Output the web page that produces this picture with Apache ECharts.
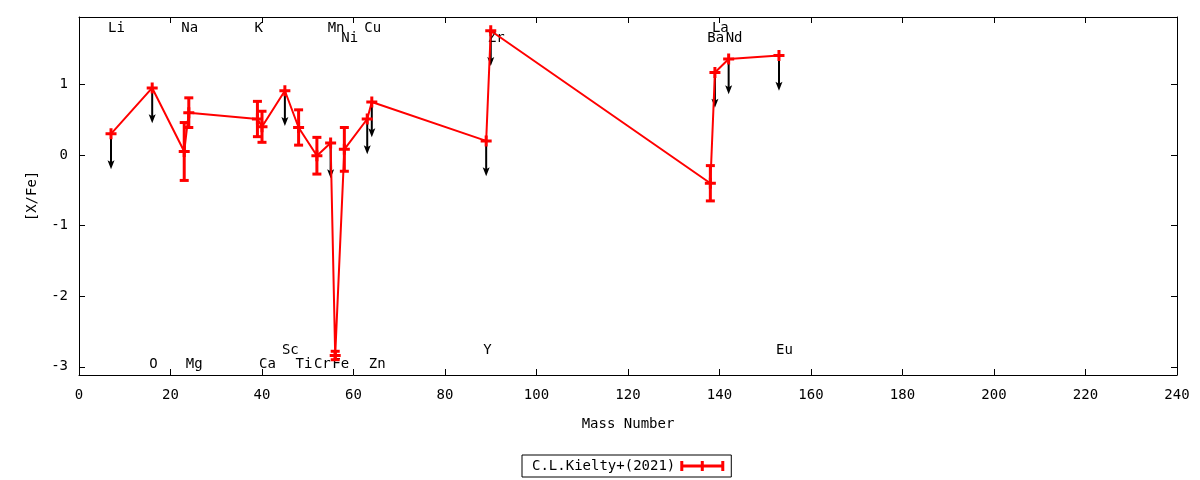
<!DOCTYPE html>
<html>
<head>
<meta charset="utf-8">
<script src="https://cdn.jsdelivr.net/npm/echarts@6/dist/echarts.min.js"></script>
<style>
  html, body { margin: 0; padding: 0; background: #fff; }
  #chart { width: 1200px; height: 480px; }
</style>
</head>
<body>
<div id="chart"></div>
<script>
// values, one entry per element, ordered by mass number
var elements = ['Li', 'O', 'Na', 'Mg', 'K', 'Ca', 'Sc', 'Ti', 'Cr', 'Mn', 'Fe', 'Ni', 'Cu', 'Zn', 'Y', 'Zr', 'Ba', 'La', 'Nd', 'Eu'];
var massNumber = [7, 16, 23, 24, 39, 40, 45, 48, 52, 55, 56, 58, 63, 64, 89, 90, 138, 139, 142, 153];
var xFe = [0.30, 0.95, 0.05, 0.60, 0.51, 0.40, 0.91, 0.39, -0.01, 0.17, -2.84, 0.08, 0.51, 0.75, 0.20, 1.76, -0.40, 1.17, 1.36, 1.41];
// null = upper limit (drawn as arrow)
var xFeErr = [null, null, 0.41, 0.21, 0.25, 0.22, null, 0.25, 0.26, null, 0.06, 0.31, null, null, null, null, 0.25, null, null, null];
// which row the element name sits in
var labelRow = ['top', 'bottom', 'top', 'bottom', 'top', 'bottom', 'bottom2', 'bottom', 'bottom', 'top',
                'bottom', 'top2', 'top', 'bottom', 'bottom2', 'top2', 'top2', 'top', 'top2', 'bottom2'];
var yTicks = [-3, -2, -1, 0, 1];
var seriesName = 'C.L.Kielty+(2021)';

var FONT = '"DejaVu Sans Mono", monospace';
var FS = 14;
var rowY = { top: 1.80, top2: 1.65, bottom: -2.96, bottom2: -2.76 };
var ARROW_LEN = 0.5;
var X_MIN = 0, X_MAX = 240, Y_MIN = -3.116, Y_MAX = 1.955;

var lineData = [], errData = [], limitData = [], labelData = [];
for (var i = 0; i < elements.length; i++) {
    lineData.push([massNumber[i], xFe[i]]);
    if (xFeErr[i] == null) limitData.push([massNumber[i], xFe[i]]);
    else errData.push([massNumber[i], xFe[i], xFeErr[i]]);
    labelData.push([massNumber[i], rowY[labelRow[i]]]);
}

var plusIcon = 'path://M4,0H7V4H11V7H7V11H4V7H0V4H4Z';
var legendIcon = 'path://M0,0H3V3.5H20.5V0H23.5V3.5H41V0H44V10H41V6.5H23.5V10H20.5V6.5H3V10H0Z';

var chart = echarts.init(document.getElementById('chart'));

function frameAxis(extra) {
    var base = {
        type: 'value',
        axisLine: { show: true, onZero: false, lineStyle: { color: '#000', width: 1 } },
        axisTick: { show: true, inside: true, length: 6, lineStyle: { color: '#000' } },
        axisLabel: { fontFamily: FONT, fontSize: FS, color: '#000' },
        splitLine: { show: false }
    };
    return echarts.util.merge(base, extra, true);
}

var option = {
    backgroundColor: '#fff',
    animation: false,
    grid: { left: 79, right: 23, top: 17, bottom: 105 },
    legend: {
        data: [{ name: seriesName, icon: legendIcon }],
        left: 522,
        top: 455,
        align: 'right',
        itemWidth: 44,
        itemHeight: 10,
        padding: [4, 7, 4, 10],
        borderColor: '#000',
        borderWidth: 1,
        borderRadius: 0,
        textStyle: { fontFamily: FONT, fontSize: FS, color: '#000' }
    },
    xAxis: [
        frameAxis({
            min: X_MIN, max: X_MAX, interval: 20,
            name: 'Mass Number', nameLocation: 'middle', nameGap: 42,
            nameTextStyle: { fontFamily: FONT, fontSize: FS, color: '#000' },
            axisLabel: { margin: 13 }
        }),
        frameAxis({
            position: 'top', min: X_MIN, max: X_MAX, interval: 20,
            axisLabel: { show: false }
        })
    ],
    yAxis: [
        frameAxis({
            min: Y_MIN, max: Y_MAX,
            name: '[X/Fe]', nameLocation: 'middle', nameGap: 40,
            nameTextStyle: { fontFamily: FONT, fontSize: FS, color: '#000' },
            axisTick: { customValues: yTicks },
            axisLabel: { margin: 11, customValues: yTicks }
        }),
        frameAxis({
            position: 'right', min: Y_MIN, max: Y_MAX,
            axisTick: { customValues: yTicks },
            axisLabel: { show: false, customValues: yTicks }
        })
    ],
    series: [
        {
            // element names
            type: 'custom',
            z: 1,
            silent: true,
            data: labelData,
            renderItem: function (params, api) {
                var p = api.coord([api.value(0), api.value(1)]);
                return {
                    type: 'text',
                    style: {
                        text: elements[params.dataIndex],
                        x: p[0] - 3,
                        y: p[1],
                        align: 'left',
                        verticalAlign: 'middle',
                        fontFamily: FONT,
                        fontSize: FS,
                        fill: '#000'
                    }
                };
            }
        },
        {
            // upper limits
            type: 'custom',
            z: 2,
            silent: true,
            data: limitData,
            renderItem: function (params, api) {
                var a = api.coord([api.value(0), api.value(1)]);
                var b = api.coord([api.value(0), api.value(1) - ARROW_LEN]);
                return {
                    type: 'group',
                    children: [
                        {
                            type: 'line',
                            shape: { x1: a[0], y1: a[1], x2: b[0], y2: b[1] - 6 },
                            style: { stroke: '#000', lineWidth: 2 }
                        },
                        {
                            type: 'polygon',
                            shape: { points: [[b[0], b[1]], [b[0] - 3.5, b[1] - 9], [b[0], b[1] - 7], [b[0] + 3.5, b[1] - 9]] },
                            style: { fill: '#000' }
                        }
                    ]
                };
            }
        },
        {
            // error bars
            type: 'custom',
            z: 3,
            silent: true,
            data: errData,
            renderItem: function (params, api) {
                var x = api.value(0), y = api.value(1), e = api.value(2);
                var t = api.coord([x, y + e]);
                var b = api.coord([x, y - e]);
                var st = { stroke: '#ff0000', lineWidth: 3 };
                return {
                    type: 'group',
                    children: [
                        { type: 'line', shape: { x1: t[0], y1: t[1], x2: b[0], y2: b[1] }, style: st },
                        { type: 'line', shape: { x1: t[0] - 4.5, y1: t[1], x2: t[0] + 4.5, y2: t[1] }, style: st },
                        { type: 'line', shape: { x1: b[0] - 4.5, y1: b[1], x2: b[0] + 4.5, y2: b[1] }, style: st }
                    ]
                };
            }
        },
        {
            name: seriesName,
            type: 'line',
            z: 4,
            data: lineData,
            symbol: plusIcon,
            symbolSize: 11,
            showSymbol: true,
            itemStyle: { color: '#ff0000' },
            lineStyle: { color: '#ff0000', width: 2 }
        }
    ]
};

chart.setOption(option);
</script>
</body>
</html>
